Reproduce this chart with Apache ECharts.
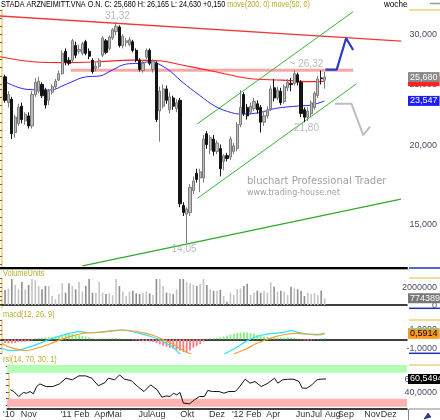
<!DOCTYPE html>
<html>
<head>
<meta charset="utf-8">
<script src="https://cdn.jsdelivr.net/npm/echarts@6.0.0/dist/echarts.min.js"></script>
<style>
html, body { margin: 0; padding: 0; background: #fff; }
#chart { width: 440px; height: 420px; }
</style>
</head>
<body>
<div id="chart"></div>
<script>
// weekly candles, first candle = week 1 (27.09.2010), last = week 96
var opens  = [25.7, 23.4, 23.7, 21.0, 21.7, 23.1, 21.9, 22.3, 21.5, 24.1, 24.4, 25.0, 24.5, 23.6, 24.3, 24.8, 25.4, 26.0, 28.2, 27.3,
              27.3, 28.8, 28.2, 28.0, 29.2, 28.2, 27.3, 26.5, 26.7, 27.8, 29.3, 28.5, 29.6, 30.3, 30.8, 28.8, 29.1, 28.9, 29.2, 28.3,
              27.3, 26.3, 27.6, 28.3, 26.4, 27.0, 22.7, 23.1, 24.6, 22.8, 23.8, 22.9, 23.6, 16.1, 15.6, 15.7, 17.0, 18.1, 17.8, 17.8,
              20.9, 19.7, 20.5, 19.6, 19.8, 18.9, 19.3, 19.2, 19.6, 19.8, 21.6, 24.1, 23.0, 22.6, 22.9, 23.3, 23.0, 21.8, 22.3, 22.9,
              24.7, 23.8, 24.4, 23.5, 24.7, 25.1, 25.1, 25.9, 25.2, 22.8, 22.2, 22.5, 23.0, 24.0, 25.6, 25.4];
var closes = [23.6, 24.1, 20.9, 22.2, 23.0, 22.0, 22.4, 21.5, 24.1, 25.2, 25.3, 24.0, 23.2, 24.4, 24.8, 25.3, 26.0, 28.0, 27.1, 27.0,
              29.3, 27.8, 28.4, 29.0, 28.0, 27.7, 26.2, 26.7, 27.3, 29.6, 28.1, 29.7, 30.5, 30.9, 28.8, 29.8, 29.3, 29.4, 28.3, 27.3,
              26.4, 27.0, 28.3, 27.0, 27.2, 22.0, 24.4, 24.6, 23.6, 23.9, 23.1, 23.4, 16.2, 15.7, 15.9, 17.2, 17.6, 17.7, 18.2, 20.5,
              20.1, 20.6, 19.6, 20.2, 18.4, 19.3, 19.1, 20.5, 20.0, 21.6, 23.0, 22.5, 22.3, 23.1, 23.5, 22.8, 21.8, 22.3, 22.8, 24.6,
              23.8, 24.5, 23.4, 24.8, 25.2, 25.0, 26.0, 25.2, 22.5, 22.2, 22.7, 23.4, 24.2, 25.5, 25.53, 25.68];
var lows   = [23.4, 23.0, 20.5, 20.6, 21.5, 21.7, 21.6, 21.3, 21.3, 23.9, 24.2, 23.8, 22.9, 23.2, 24.1, 24.6, 25.3, 25.9, 26.8, 26.8,
              27.1, 27.5, 27.9, 27.8, 27.8, 27.4, 26.0, 26.2, 26.5, 27.6, 27.9, 28.3, 29.4, 29.9, 28.6, 28.5, 28.7, 28.7, 28.1, 27.1,
              26.2, 26.1, 27.4, 26.8, 26.1, 21.8, 20.3, 22.9, 23.3, 22.5, 22.8, 22.6, 16.0, 15.5, 14.05, 15.5, 16.8, 17.5, 16.9, 17.5,
              19.8, 19.4, 19.3, 19.4, 17.9, 18.3, 18.9, 19.0, 19.4, 19.6, 21.4, 22.3, 22.0, 22.4, 22.7, 22.5, 21.0, 21.5, 22.1, 22.7,
              23.5, 23.6, 23.2, 23.3, 24.4, 24.4, 24.9, 24.9, 22.2, 21.80, 21.9, 22.2, 22.8, 23.8, 25.0, 24.63];
var highs  = [25.9, 24.4, 23.9, 22.4, 23.3, 23.4, 22.6, 22.6, 24.4, 25.6, 25.7, 25.2, 24.7, 24.6, 25.0, 25.5, 26.3, 28.3, 28.5, 27.6,
              29.5, 29.2, 28.9, 29.2, 29.4, 28.5, 27.5, 27.1, 27.5, 29.8, 29.5, 29.9, 30.7, 31.32, 31.0, 30.0, 29.6, 29.7, 29.4, 28.5,
              27.5, 27.2, 28.5, 28.5, 27.4, 27.2, 24.8, 25.0, 24.9, 24.3, 24.0, 23.7, 23.8, 16.3, 16.0, 17.4, 17.9, 18.4, 18.4, 20.8,
              21.1, 20.8, 20.8, 20.4, 20.1, 19.4, 19.5, 20.7, 20.2, 21.8, 24.5, 24.3, 23.3, 23.4, 23.8, 23.6, 23.2, 22.6, 23.1, 24.9,
              25.5, 24.8, 24.7, 25.0, 25.5, 25.6, 26.32, 26.1, 25.4, 23.0, 23.0, 23.6, 24.4, 25.8, 26.3, 26.165];
var volumes = [1700000, 1850000, 2940000, 2260000, 1800000, 2600000, 1770000, 2260000, 2940000, 2800000, 2150000, 1770000, 2150000, 2150000, 1020000, 640000,
               1240000, 2450000, 1390000, 2450000, 2150000, 1770000, 2640000, 1510000, 2150000, 2940000, 1390000, 1390000, 2640000, 1390000, 1240000, 1320000,
               1100000, 2940000, 2150000, 1510000, 1020000, 1510000, 1620000, 1320000, 1240000, 1390000, 1510000, 1320000, 1130000, 2940000, 2940000, 2150000,
               1390000, 1320000, 1240000, 1770000, 2940000, 2940000, 2640000, 2450000, 2260000, 2150000, 2400000, 2940000, 2260000, 1770000, 1620000, 1620000,
               1700000, 1020000, 380000, 1390000, 1130000, 1770000, 1880000, 2150000, 2400000, 1130000, 1390000, 1620000, 1390000, 1620000, 1390000, 2550000,
               2050000, 1510000, 1620000, 1510000, 1130000, 2050000, 1880000, 1770000, 1620000, 1020000, 1390000, 1240000, 1320000, 1130000, 1620000, 774389];
var macdHist = [-0.40, -0.43, -0.43, -0.38, -0.30, -0.27, -0.25, -0.20, -0.10, 0.10, 0.15, 0.18, 0.20, 0.22, 0.25, 0.30, 0.36, 0.43, 0.50, 0.57,
                0.57, 0.50, 0.43, 0.36, 0.30, 0.22, 0.14, 0.05, 0.08, 0.12, 0.10, 0.12, 0.14, 0.12, 0.10, 0.05, 0.02, -0.03, -0.08, -0.12,
                -0.15, -0.20, -0.22, -0.25, -0.30, -0.40, -0.55, -0.70, -0.80, -0.90, -1.00, -1.10, -1.20, -1.35, -1.43, -1.20, -0.90, -0.70, -0.50, -0.25,
                0.05, 0.10, 0.12, 0.15, 0.20, 0.30, 0.40, 0.50, 0.60, 0.68, 0.72, 0.75, 0.75, 0.68, 0.60, 0.50, 0.40, 0.30, 0.25, 0.20,
                0.15, 0.18, 0.20, 0.18, 0.20, 0.18, 0.15, 0.10, -0.05, -0.12, -0.14, -0.12, -0.05, 0.05, 0.10, 0.12];
// [week, value] points
var macdLine = [[0, -0.96], [2.5, -1.2], [5.4, -1.14], [8.4, -0.79], [11.3, -0.43], [14.3, 0], [17.3, 0.36], [20.2, 0.64], [23.2, 0.82], [26.1, 0.71],
                [29.1, 0.75], [32, 0.89], [35, 1.0], [38, 0.89], [40.9, 0.64], [43.9, 0.36], [46.8, 0], [48.8, -0.43], [50.8, -0.79], [52.8, -1.5],
                [56, -2.3], [60, -2.6], [64, -2.1], [66.6, -1.5], [68.5, -1.14], [70.5, -0.71], [72.5, -0.25], [74.5, 0.11], [77.4, 0.46], [80.4, 0.64],
                [83.3, 0.71], [86.3, 0.93], [88.3, 0.71], [91.2, 0.57], [94.2, 0.46], [96, 0.66]];
var signalLine = [[0, -0.43], [2.5, -0.86], [7.4, -1.2], [11.3, -0.86], [14.3, -0.5], [17.3, -0.07], [20.2, 0.29], [23.2, 0.57], [26.1, 0.71], [29.1, 0.75],
                  [33, 0.89], [36, 1.0], [39, 0.89], [41.9, 0.71], [44.9, 0.43], [47.8, 0], [50.8, -0.5], [53.7, -1.14], [55.7, -1.5], [60, -2.0],
                  [65, -2.2], [69.5, -1.5], [72.5, -1.07], [75.4, -0.5], [78.4, -0.07], [81.4, 0.29], [84.3, 0.54], [87.3, 0.64], [90.2, 0.57], [93.2, 0.54],
                  [96, 0.5914]];
var rsiLine = [[0.5, 43.6], [1.5, 41.0], [3, 33.3], [4.4, 39.5], [5.4, 38.4], [6.4, 41.0], [7.4, 37.4], [8.4, 48.7], [9.4, 52.8], [11.3, 48.7],
               [13.3, 48.7], [15.3, 52.8], [17.3, 61.6], [19.2, 59.0], [21.2, 65.2], [23.2, 65.2], [25.1, 61.6], [27.1, 49.8], [29.1, 54.9], [30.1, 61.6],
               [32, 59.0], [33.5, 66.7], [35, 60.0], [37, 58.0], [39, 48.7], [40.9, 41.0], [42.9, 51.3], [44.9, 43.6], [46.3, 32.3], [47.8, 34.3],
               [48.8, 33.3], [49.8, 38.4], [50.8, 35.9], [51.8, 39.5], [52.8, 23.1], [54.7, 22.0], [56.2, 28.2], [57.7, 33.3], [59.2, 33.3], [60.2, 42.6],
               [61.6, 41.0], [63.6, 41.0], [65.1, 38.4], [66.6, 41.0], [68.5, 41.0], [69.5, 46.2], [71.5, 60.0], [73, 53.9], [74.5, 56.4], [76.4, 48.7],
               [78.4, 53.9], [80.4, 61.6], [81.4, 53.9], [82.8, 59.0], [84.3, 60.0], [86.3, 60.0], [87.8, 56.4], [88.8, 46.2], [90.2, 46.2], [91.7, 51.3],
               [93.2, 59.0], [94.2, 60.0], [96, 60.5494]];
var ma200 = [[-0.5, 27.65], [9.3, 27.15], [19.3, 27.06], [29.1, 27.15], [38.8, 27.32], [46.8, 27.25], [53.6, 26.83], [63.6, 26.18], [73.5, 25.55], [83.2, 25.4], [93.3, 25.25], [96, 25.3]];
var ma50 = [[0.5, 25.34], [7.5, 24.56], [14.3, 24.5], [19.3, 25.04], [25.2, 25.71], [29.1, 25.78], [32.9, 26.35], [37.1, 26.93], [40.9, 27.0], [43.9, 27.15],
            [48.9, 26.51], [53.6, 25.25], [58.7, 24.06], [63.7, 23.06], [68.4, 22.56], [71.4, 22.45], [76.4, 22.56], [81.5, 22.92], [88.3, 23.12], [92.1, 23.2], [96, 23.547]];

// drawn trend lines, [week, price]
var resistLine = [[-0.5, 32.07], [118.8, 29.26]];
var levelLine = [[20.5, 26.32], [104.5, 26.32]];
var channelTop = [[58.1, 21.65], [104.5, 32.57]];
var channelLow = [[58.2, 16.53], [105.4, 25.04]];
var baseLine = [[24.05, 12.93], [118.7, 16.48]];
var upArrow = [[96.25, 26.38], [99.6, 26.38], [102.4, 29.57], [104.5, 28.34]];
var downArrow = [[99.1, 23.3], [104, 23.3], [107.5, 20.8], [109.5, 21.44]];
var notes = [[34.4, 31.32, '31,32', 'top'], [90.6, 26.32, '~ 26,32', 'top'], [90.6, 21.80, '21,80', 'bottom'], [54.2, 14.05, '14,05', 'bottom']];

var lastMa200 = 25.3, lastMa50 = 23.547, lastMacd = 0.66, lastSignal = 0.5914, lastRsi = 60.5494, change = 0.150;

var tickWeeks = [0, 6, 20, 28, 32, 41, 45, 54, 63, 72, 80, 89, 93, 98, 102, 110, 115];
var tickNames = ["'10", 'Nov', "'11 Feb", 'Apr', 'Mai', 'Jul', 'Aug', 'Okt', 'Dez', "'12 Feb", 'Apr', 'Jun', 'Jul', 'Aug', 'Sep', 'Nov', 'Dez'];
var priceLabels = [15, 20, 25, 30];
var priceTicks = [13, 13.4, 13.8, 14.2, 14.6, 15, 15.45, 15.9, 16.4, 16.9, 17.4, 17.9, 18.4, 19, 19.5, 20, 20.6, 21.2, 21.8, 22.5, 23.2, 23.9, 24.6, 25, 25.8, 26.6, 27.4, 28.2, 29.1, 30, 30.9, 31.8, 32.7];
var volLabels = [0, 2000000];
var volTicks = [0, 500000, 1000000, 1500000, 2000000, 2500000, 3000000];
var macdLabels = [-1, 1];
var macdTicks = [-1.5, -1, -0.5, 0, 0.5, 1, 1.5, 2];
var rsiLabels = [40, 60];
var rsiTicks = [20, 30, 40, 50, 60, 70, 80];

var FONT = '"Liberation Sans Narrow", "Liberation Sans", Arial, sans-serif';
var first = 1;
var nWeeks = 121;

function de(v, d) { return v.toFixed(d).replace('.', ','); }

var weeks = [];
var t0 = Date.UTC(2010, 8, 20);
for (var k = 0; k < nWeeks; k++) {
  var dt = new Date(t0 + k * 7 * 864e5);
  weeks.push(dt.getUTCDate() + '.' + (dt.getUTCMonth() + 1) + '.' + dt.getUTCFullYear());
}

var candles = [], volBars = [], histBars = [];
for (var k = 0; k < nWeeks; k++) {
  var j = k - first;
  if (j >= 0 && j < opens.length) {
    var up = closes[j] >= opens[j];
    candles.push([opens[j], closes[j], lows[j], highs[j]]);
    volBars.push({ value: volumes[j], itemStyle: { color: up ? '#c4c4c4' : '#8e8e8e' } });
    histBars.push({ value: macdHist[j], itemStyle: { color: macdHist[j] >= 0 ? '#7ff07f' : '#ff7a7a' } });
  } else {
    candles.push('-'); volBars.push('-'); histBars.push('-');
  }
}
var n = opens.length - 1;

// value box on the right axis (markLine with an invisible line)
function valueBox(v, text, bg, fg) {
  return {
    silent: true, symbol: 'none', animation: false,
    lineStyle: { color: 'rgba(0,0,0,0)', width: 0 },
    label: { show: true, position: 'end', distance: 1, formatter: text, backgroundColor: bg, color: fg,
             padding: [1, 2, 0, 2], fontSize: 9, fontFamily: FONT },
    emphasis: { disabled: true },
    data: [{ yAxis: v }]
  };
}

function catAxis(g, w) {
  return {
    type: 'category', gridIndex: g, data: weeks, boundaryGap: true, position: 'bottom',
    axisLine: { show: true, lineStyle: { color: '#000', width: w } },
    axisTick: { show: false }, axisLabel: { show: false }, splitLine: { show: false }
  };
}
function valAxis(g) {
  var ax = { type: 'value', gridIndex: g, min: -0.5, max: nWeeks - 0.5, position: 'bottom',
             axisLine: { show: false }, axisTick: { show: false }, splitLine: { show: false }, axisLabel: { show: false } };
  if (g === 3) {
    ax.axisLabel = { show: true, customValues: tickWeeks, margin: 1, fontSize: 9, color: '#333', fontFamily: FONT,
                     hideOverlap: false, showMinLabel: true, showMaxLabel: true,
                     formatter: function (v) { return tickNames[tickWeeks.indexOf(v)]; } };
  }
  return ax;
}
function rightAxis(g, type, min, max, labels, ticks, fmt) {
  return {
    type: type, gridIndex: g, position: 'right', min: min, max: max,
    axisLine: { show: true, lineStyle: { color: '#f2cf78', width: 1.5 } },
    axisTick: { show: true, inside: true, length: 3, customValues: ticks, lineStyle: { color: '#555' } },
    axisLabel: { show: true, customValues: labels, formatter: fmt, align: 'right', margin: 30,
                 fontSize: 9, color: '#4c4c66', fontFamily: FONT },
    splitLine: { show: false }
  };
}
function leftAxis(g, type, min, max, ticks) {
  return {
    type: type, gridIndex: g, position: 'left', min: min, max: max,
    axisLine: { show: false },
    axisTick: { show: true, inside: true, length: 2, customValues: ticks, lineStyle: { color: '#666' } },
    axisLabel: { show: false }, splitLine: { show: false }
  };
}
function trend(data, color, width) {
  return { type: 'line', xAxisIndex: 4, yAxisIndex: 0, data: data, symbol: 'none', silent: true,
           lineStyle: { color: color, width: width }, z: 3 };
}
// narrow-looking text: regular font squeezed horizontally
function label(x, y, text, color, font, sx) {
  return { type: 'text', x: x, y: y, scaleX: sx || 0.82, silent: true, z: 100,
           style: { text: text, fill: color, font: font || ('9px ' + FONT), verticalAlign: 'middle' } };
}
function rule(x1, y1, x2, y2, color, w) {
  return { type: 'line', silent: true, shape: { x1: x1, y1: y1, x2: x2, y2: y2 }, style: { stroke: color, lineWidth: w } };
}

var headline = 'STADA ARZNEIMITT.VNA O.N. C: ' + de(closes[n], 3) + ' H: ' + de(highs[n], 3) + ' L: ' + de(lows[n], 3) + ' +' + de(change, 3);

var option = {
  animation: false,
  backgroundColor: '#fff',
  grid: [
    { left: 0, top: 10, width: 409, height: 258 },
    { left: 0, top: 278, width: 409, height: 30.3 },
    { left: 0, top: 320, width: 409, height: 33.3 },
    { left: 0, top: 365, width: 409, height: 44 }
  ],
  xAxis: [catAxis(0, 2), catAxis(1, 1.5), catAxis(2, 1.5), catAxis(3, 1.5), valAxis(0), valAxis(1), valAxis(2), valAxis(3)],
  yAxis: [
    rightAxis(0, 'log', 12.83, 32.77, priceLabels, priceTicks, function (v) { return de(v, 3); }),
    rightAxis(1, 'value', -370000, 3050000, volLabels, volTicks, function (v) { return String(v); }),
    rightAxis(2, 'value', -1.5, 2.07, macdLabels, macdTicks, function (v) { return de(v, 4); }),
    rightAxis(3, 'value', 14, 82, rsiLabels, rsiTicks, function (v) { return de(v, 4); }),
    leftAxis(0, 'log', 12.83, 32.77, priceTicks),
    leftAxis(1, 'value', -370000, 3050000, volTicks),
    leftAxis(2, 'value', -1.5, 2.07, macdTicks),
    leftAxis(3, 'value', 14, 82, rsiTicks)
  ],
  series: [
    trend(levelLine, '#f6a8a8', 3),
    trend(resistLine, '#f03a3a', 1.4),
    trend(channelTop, '#35b935', 1),
    trend(channelLow, '#35b935', 1),
    trend(baseLine, '#2eaa2e', 1.2),
    trend(upArrow, '#2b3bc6', 2.2),
    trend(downArrow, '#bdbdbd', 2),
    { type: 'line', xAxisIndex: 4, yAxisIndex: 0, data: ma200, smooth: 0.4, symbol: 'none', z: 4,
      lineStyle: { color: '#ff2020', width: 1.2 }, markLine: valueBox(lastMa200, de(lastMa200, 3), '#ff2020', '#ff2020') },
    { type: 'line', xAxisIndex: 4, yAxisIndex: 0, data: ma50, smooth: 0.4, symbol: 'none', z: 4,
      lineStyle: { color: '#2a2af5', width: 1 }, markLine: valueBox(lastMa50, de(lastMa50, 3), '#1c1cff', '#fff') },
    { type: 'candlestick', xAxisIndex: 0, yAxisIndex: 0, data: candles, barWidth: 2.6, z: 5,
      itemStyle: { color: '#bdbdbd', color0: '#141414', borderColor: '#7c7c7c', borderColor0: '#141414', borderWidth: 1 },
      markLine: valueBox(closes[n], de(closes[n], 3), '#8a8a8a', '#fff') },
    { type: 'scatter', xAxisIndex: 4, yAxisIndex: 0, symbolSize: 0, silent: true, z: 6,
      data: notes.map(function (p) { return { value: [p[0], p[1]], label: { position: p[3] } }; }),
      label: { show: true, distance: 1, fontSize: 10, color: '#a9a9a9', fontFamily: FONT,
               formatter: function (p) { return notes[p.dataIndex][2]; } } },
    { type: 'bar', xAxisIndex: 1, yAxisIndex: 1, data: volBars, barWidth: 1.6,
      markLine: valueBox(volumes[n], String(volumes[n]), '#777', '#fff') },
    { type: 'bar', xAxisIndex: 2, yAxisIndex: 2, data: histBars, barWidth: 1.8 },
    { type: 'line', xAxisIndex: 6, yAxisIndex: 2, data: macdLine, smooth: 0.3, symbol: 'none', z: 3,
      lineStyle: { color: '#27e3f2', width: 1.2 }, markLine: valueBox(lastMacd, de(lastMacd, 4), '#27e3f2', '#000') },
    { type: 'line', xAxisIndex: 6, yAxisIndex: 2, data: signalLine, smooth: 0.3, symbol: 'none', z: 4,
      lineStyle: { color: '#f5a033', width: 1.2 }, markLine: valueBox(lastSignal, de(lastSignal, 4), '#ff9a1a', '#000') },
    { type: 'line', xAxisIndex: 7, yAxisIndex: 3, data: rsiLine, symbol: 'none', z: 3,
      lineStyle: { color: '#111', width: 1 },
      markArea: { silent: true, data: [
        [{ yAxis: 70, itemStyle: { color: '#b3ffb3' } }, { yAxis: 82 }],
        [{ yAxis: 17.3, itemStyle: { color: '#ffb3b3' } }, { yAxis: 30 }]
      ] },
      markLine: valueBox(lastRsi, de(lastRsi, 4), '#000', '#fff') }
  ],
  graphic: [
    { type: 'text', x: 1, y: 5, scaleX: 0.8, silent: true, z: 100,
      style: { text: '{a|' + headline + ' }{b|move(200, 0) move(50, 0)}', verticalAlign: 'middle',
               rich: { a: { fill: '#000', font: '9px ' + FONT }, b: { fill: '#bbab2c', font: '9px ' + FONT } } } },
    label(384, 5, 'woche', '#000', null, 0.9),
    label(3, 274, 'VolumeUnits', '#bbab2c'),
    label(3, 315, 'macd(12, 26, 9)', '#bbab2c'),
    label(3, 360, 'rsi(14, 70, 30, 1)', '#bbab2c'),
    label(247, 181, 'bluchart Professional Trader', '#a2a2a2', '10px "DejaVu Sans"', 1),
    label(247, 193, 'www.trading-house.net', '#a2a2a2', '8px "DejaVu Sans"', 1),
    rule(409, 10, 440, 10, '#f2cf78', 1.5),
    rule(409, 278, 440, 278, '#f2cf78', 1.5),
    rule(409, 320, 440, 320, '#f2cf78', 1.5),
    rule(409, 365, 440, 365, '#f2cf78', 1.5),
    rule(409, 268, 440, 268, '#2030c0', 1.5),
    rule(409, 308.3, 440, 308.3, '#2030c0', 1.5),
    rule(409, 353.3, 440, 353.3, '#2030c0', 1.5),
    rule(409, 409, 440, 409, '#888', 1),
    rule(0, 269.6, 409, 269.6, '#aaa', 1),
    rule(408.5, 409, 408.5, 420, '#888', 1),
    rule(430, 3.5, 440, 3.5, '#999', 1.5),
    { type: 'polygon', silent: true, shape: { points: [[424, 419], [428, 413], [431, 417]] }, style: { fill: '#2040c0', stroke: '#000', lineWidth: 0.5 } }
  ]
};

var chart = echarts.init(document.getElementById('chart'), null, { renderer: 'canvas' });
chart.setOption(option);
</script>
</body>
</html>
